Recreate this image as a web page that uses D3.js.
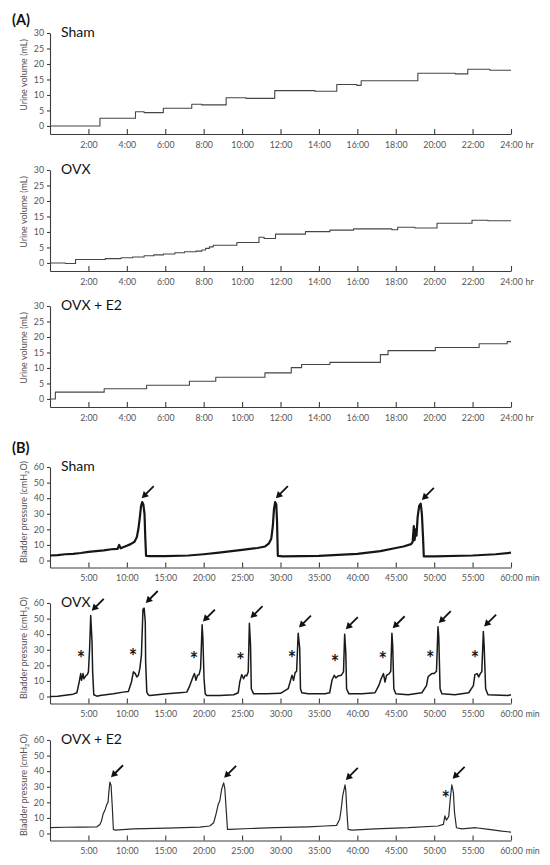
<!DOCTYPE html>
<html><head><meta charset="utf-8">
<script src="https://cdn.jsdelivr.net/npm/d3@7"></script>
<style>
body{margin:0;background:#fff}
svg{display:block}
text{font-family:Lato,"Open Sans",sans-serif}
</style>
</head><body>
<svg id="c" width="550" height="865"></svg>
<script>
// ---------- data ----------
const hourTicks = [2,4,6,8,10,12,14,16,18,20,22,24];
const minuteTicks = [5,10,15,20,25,30,35,40,45,50,55,60];
const volumeTicks = [0,5,10,15,20,25,30];
const pressureTicks = [0,10,20,30,40,50,60];
const groupNames = ["Sham","OVX","OVX + E2"];

// urine volume (hour, mL), step traces
const shamVolume = [[0,0],[2.6,2.5],[4.45,4.6],[4.9,4.3],[5.9,5.7],[7.38,7.0],[7.9,6.8],[9.17,9.1],[10.2,8.9],[11.7,11.4],[13.8,11.2],[14.93,13.4],[15.97,13.1],[16.2,14.6],[19.15,17.0],[21.1,16.8],[21.75,18.3],[22.9,18.0],[24,18.0]];
const ovxVolume = [[0,0],[0.8,-0.2],[1.33,1.1],[2.88,1.4],[3.7,1.7],[4.3,1.9],[4.9,2.3],[5.4,2.6],[5.9,2.9],[6.5,3.3],[7.0,3.6],[7.6,3.8],[7.9,4.2],[8.1,4.7],[8.3,5.2],[8.5,5.7],[9.73,6.6],[10.88,8.3],[11.15,7.9],[11.74,9.3],[13.3,10.1],[14.57,10.6],[15.8,11.0],[17.8,10.7],[18.1,11.5],[19.0,11.3],[20.15,12.8],[21.97,13.8],[22.8,13.6],[24,13.6]];
const e2Volume = [[0,0],[0.28,2.2],[2.82,3.3],[5.03,4.4],[7.26,5.7],[8.63,7.0],[11.19,8.4],[12.56,10.1],[13.1,11.1],[14.57,11.8],[17.2,14.3],[17.6,15.6],[20.06,16.6],[22.34,17.8],[23.8,18.5],[24,18.5]];

// bladder pressure (minute, cmH2O)
const shamPressure = [[0,3.2],[1,3.5],[2,4.0],[3,4.3],[4,4.8],[5,5.5],[6,6.0],[7,6.5],[8,7.2],[8.8,7.5],[9.0,10],[9.2,7.8],[10,9.5],[10.5,10.5],[11.0,12],[11.3,15],[11.5,20],[11.7,28],[11.85,35],[12.0,37.5],[12.15,36],[12.3,30],[12.4,15],[12.5,3.0],[13,2.8],[15,2.8],[18,3.2],[20,4.0],[22,5.0],[25,6.8],[27,8],[28,9],[28.5,11],[28.8,14],[29.0,22],[29.15,33],[29.3,37.5],[29.45,36],[29.55,25],[29.65,3.0],[30.3,2.6],[35,3.0],[40,4.2],[43,6],[45,8],[46,9],[47,10.5],[47.2,12],[47.35,22],[47.45,13],[47.6,20],[47.7,16],[47.85,28],[48.05,35],[48.25,36.5],[48.4,30],[48.55,15],[48.65,2.6],[50,2.6],[55,3.2],[58,4],[60,5]];
const ovxPressure = [[0,0],[1.0,0.2],[2.0,0.8],[3.0,1.5],[3.5,2.4],[3.8,9.3],[4.0,14.7],[4.1,10.4],[4.3,14.7],[4.4,11.4],[4.7,13.6],[4.85,14.0],[5.0,15.8],[5.15,30],[5.3,52],[5.47,35],[5.55,15.8],[5.7,1.1],[6.1,0.2],[6.5,0.6],[8.25,1.7],[9.5,2.8],[10.2,3.2],[10.6,9.3],[10.85,15.8],[11.1,14.7],[11.3,12.5],[11.5,13.6],[11.7,18],[11.9,26.5],[12.1,56],[12.25,56.7],[12.4,48],[12.45,22],[12.6,2.8],[12.8,1.1],[13.0,0.6],[15.2,1.7],[16.9,2.4],[17.8,2.8],[18.2,7],[18.6,12.5],[18.8,14.7],[19.0,10.4],[19.2,13.6],[19.4,14],[19.6,18],[19.8,46],[19.9,37],[20.05,11.4],[20.2,1.7],[20.4,0.6],[22.1,0.6],[23.9,1.1],[24.5,2.4],[24.7,9.3],[24.95,14],[25.2,11.4],[25.4,13.6],[25.6,13.2],[25.8,15.8],[25.95,47],[26.1,33],[26.2,5],[26.5,1.7],[28.2,1.7],[30.0,2.0],[31.0,5.0],[31.5,13.6],[31.7,10.4],[31.9,15.3],[32.1,16.2],[32.3,40.6],[32.5,30.9],[32.6,5],[32.77,2.4],[33.6,1.7],[35.8,1.7],[36.4,2.4],[36.7,10.4],[37.0,13.6],[37.2,11.9],[37.5,13.2],[37.9,13.6],[38.2,15.8],[38.35,40],[38.5,28],[38.6,5],[38.9,1.7],[40.6,1.7],[42.3,2.4],[42.8,7.1],[43.1,11.4],[43.4,14.7],[43.6,9.3],[43.8,13.6],[44.15,14.7],[44.35,16.2],[44.5,40.6],[44.6,33],[44.75,5],[45.0,1.7],[46.6,1.1],[48.4,2.4],[49.0,7],[49.2,12.5],[49.4,13.6],[49.7,14.7],[50.0,14.7],[50.3,16.2],[50.5,44.7],[50.6,38],[50.77,5],[51.0,1.7],[52.7,1.1],[54.5,2.4],[55.1,7],[55.3,14],[55.6,14.7],[55.8,12.5],[56.0,14.7],[56.2,15.8],[56.4,41.7],[56.5,33],[56.7,5],[57.0,1.1],[59.6,0.6],[60,1.1]];
const e2Pressure = [[0,3.7],[2,4.0],[4,4.1],[6.1,4.3],[6.5,5.8],[6.7,8],[6.9,12.3],[7.2,15.6],[7.4,18.8],[7.55,20],[7.7,28.6],[7.8,33],[7.95,30.8],[8.1,17.8],[8.25,2.6],[8.5,2.2],[10.85,3],[15.2,3.5],[19.5,4.1],[20.8,4.8],[21.3,6.9],[21.6,12.3],[21.9,18.8],[22.1,21],[22.35,28.6],[22.6,32.5],[22.75,29],[22.9,17.8],[23.1,2.6],[23.4,2.6],[26,3.2],[29.3,3.7],[33.6,4.3],[35.8,4.8],[37.3,5.2],[37.7,9.1],[37.9,15.6],[38.1,24.3],[38.4,31.2],[38.5,27.5],[38.65,13.4],[38.8,2.6],[39.3,2.2],[42.3,3],[46.6,3.7],[50.5,4.8],[51.2,5.8],[51.4,11.3],[51.6,8.5],[51.9,11],[52.1,22.5],[52.3,31.2],[52.5,26.4],[52.65,13.4],[52.9,3.7],[53.6,3.0],[55.4,3.7],[57.1,2.6],[58.8,1.5],[60,0.9]];

// annotations: arrow tips (minute, cmH2O) and asterisks
const shamArrows = [[11.94,40],[29.4,40],[48.4,38.9]];
const ovxArrows = [[5.43,55],[12.46,60],[19.9,48.1],[26.1,50.3],[32.4,44.2],[38.5,43.2],[44.6,43.8],[50.6,47.1],[56.5,44.9]];
const e2Arrows = [[7.94,36.1],[22.66,35.7],[38.5,34.4],[52.4,35.1]];
const ovxStars = [[4.04,26.5],[10.8,28],[18.75,26],[24.8,25.5],[31.5,26.5],[37.1,24],[43.3,26],[49.5,26.5],[55.3,26.5]];
const e2Stars = [[51.5,24.7]];

// ---------- drawing ----------
const svg = d3.select('#c');
const AX = '#3c3c3c', TXT = '#555';

svg.append('text').attr('x',12).attr('y',25).attr('font-size',14.5).attr('font-weight','bold').attr('fill','#111').text('(A)');
svg.append('text').attr('x',12).attr('y',453).attr('font-size',14.5).attr('font-weight','bold').attr('fill','#111').text('(B)');

function panel(o){
  const g = svg.append('g');
  const x = d3.scaleLinear().domain([0,o.xMax]).range([50,511]);
  const y = d3.scaleLinear().domain([o.yMin,o.yMax]).range([o.top+o.axisOff,o.top]);
  const xa = g.append('g').attr('transform',`translate(0,${o.top+o.axisOff})`)
    .call(d3.axisBottom(x).tickValues(o.xTicks).tickFormat(d=>d+':00').tickSizeInner(-5).tickSizeOuter(0).tickPadding(7.5));
  const ya = g.append('g').attr('transform','translate(50,0)')
    .call(d3.axisLeft(y).tickValues(o.yTicks).tickSizeInner(3).tickSizeOuter(0).tickPadding(3));
  [xa,ya].forEach(a=>{
    a.select('.domain').attr('stroke',AX).attr('stroke-width',1.1);
    a.selectAll('.tick line').attr('stroke',AX).attr('stroke-width',1.1);
    a.selectAll('.tick text').attr('fill',TXT).attr('font-size',8.8).attr('font-family','Lato,sans-serif');
  });
  g.append('text').attr('x',x(o.xMax)+14.5).attr('y',o.top+o.axisOff+7.5).attr('dy','0.71em')
    .attr('font-size',8.8).attr('fill',TXT).text(o.unit);
  // title
  g.append('text').attr('x',61).attr('y',o.top+3.5).attr('font-size',14).attr('fill','#111').text(o.title);
  // y label
  const yl = g.append('text').attr('transform',`translate(27,${o.top+o.labOff}) rotate(-90)`)
    .attr('text-anchor','middle').attr('font-size',9).attr('fill',TXT);
  if(o.sub){
    yl.append('tspan').text(o.ylabel[0]);
    yl.append('tspan').attr('font-size',6).attr('dy',2).text(o.ylabel[1]);
    yl.append('tspan').attr('dy',-2).text(o.ylabel[2]);
  } else yl.text(o.ylabel);
  // trace
  const line = d3.line().x(d=>x(d[0])).y(d=>y(d[1])).curve(o.curve);
  g.append('path').datum(o.data).attr('d',line).attr('fill','none')
    .attr('stroke',o.color).attr('stroke-width',o.sw).attr('stroke-linejoin','round');
  // arrows
  (o.arrows||[]).forEach(a=>{
    const tx=x(a[0]), ty=y(a[1]);
    g.append('line').attr('x1',tx+12).attr('y1',ty-12).attr('x2',tx+4).attr('y2',ty-4)
      .attr('stroke','#111').attr('stroke-width',1.8);
    const bx=tx+4.6, by=ty-4.6;
    g.append('path').attr('d',`M${tx},${ty}L${bx+2.6},${by+2.6}L${bx-2.6},${by-2.6}Z`).attr('fill','#111');
  });
  (o.stars||[]).forEach(s=>{
    g.append('text').attr('transform',`translate(${x(s[0])},${y(s[1])+11}) rotate(0.01)`).attr('text-anchor','middle')
      .attr('font-family','Liberation Sans,Arial,sans-serif').attr('font-weight','bold').attr('font-size',20).attr('fill','#1a1a1a').text('*');
  });
}

const volTops = [33,170,306];
const presTops = [467,603,740];
const volData = [shamVolume, ovxVolume, e2Volume];
const presData = [shamPressure, ovxPressure, e2Pressure];
const presArrows = [shamArrows, ovxArrows, e2Arrows];
const presStars = [[], ovxStars, e2Stars];
const presWidth = [2.2,1.5,1.2];
const presColor = ['#161616','#1a1a1a','#2a2a2a'];

volTops.forEach((t,i)=>panel({top:t,axisOff:101,xMax:24,yMin:-2.6,yMax:30,xTicks:hourTicks,yTicks:volumeTicks,
  unit:'hr',title:groupNames[i],ylabel:'Urine volume (mL)',labOff:42,data:volData[i],curve:d3.curveStepAfter,color:'#454545',sw:1.1}));
presTops.forEach((t,i)=>panel({top:t,axisOff:100.5,xMax:60,yMin:-4.5,yMax:60,xTicks:minuteTicks,yTicks:pressureTicks,
  unit:'min',title:groupNames[i],ylabel:['Bladder pressure (cmH','2','O)'],sub:true,labOff:45,data:presData[i],curve:d3.curveLinear,
  color:presColor[i],sw:presWidth[i],arrows:presArrows[i],stars:presStars[i]}));
</script>
</body></html>
